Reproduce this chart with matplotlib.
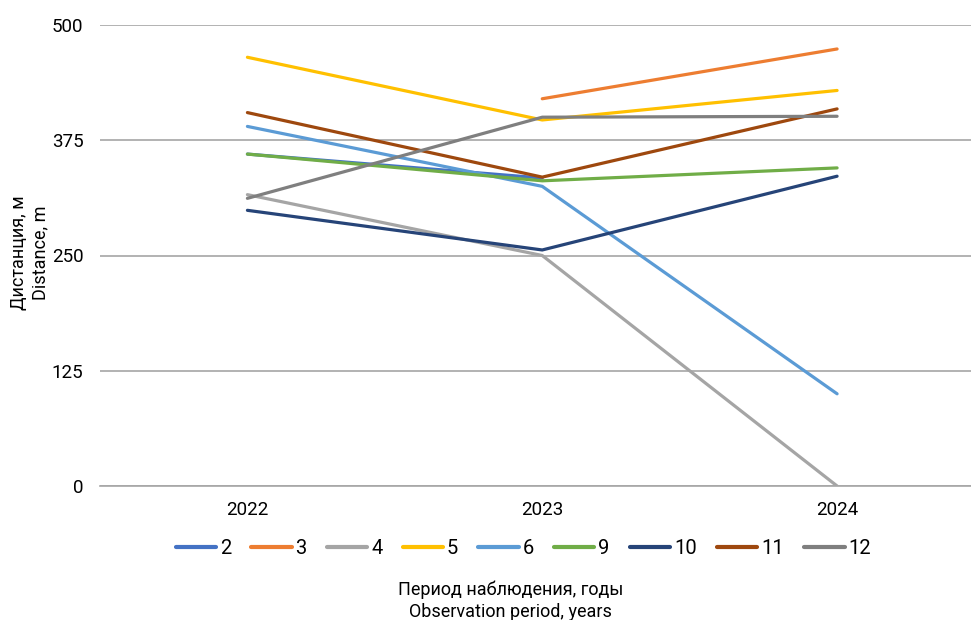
import matplotlib

matplotlib.use("Agg")

import matplotlib.pyplot as plt
import numpy as np

years = ["2022", "2023", "2024"]
series_names = ["2", "3", "4", "5", "6", "9", "10", "11", "12"]

s2 = [360, 334, np.nan]
s3 = [np.nan, 420, 474]
s4 = [316, 250, 0]
s5 = [465, 397, 429]
s6 = [390, 325, 100]
s9 = [360, 331, 345]
s10 = [299, 256, 336]
s11 = [405, 335, 409]
s12 = [312, 400, 401]

yticks = [0, 125, 250, 375, 500]

colors = ["#4472C4", "#ED7D31", "#A5A5A5", "#FFC000", "#5B9BD5",
          "#70AD47", "#264478", "#9E480E", "#7F7F7F"]

plt.rcParams["font.family"] = ["Roboto", "DejaVu Sans"]

fig = plt.figure(figsize=(9.71, 6.2), dpi=100)
ax = fig.add_axes([100 / 971, 134 / 620, 884.5 / 971, 461 / 620])

x = np.arange(len(years))
all_series = [s2, s3, s4, s5, s6, s9, s10, s11, s12]
for name, vals, c in zip(series_names, all_series, colors):
    ax.plot(x, vals, color=c, lw=2.3, solid_capstyle="round", label=name)

ax.set_xlim(-0.5, 2.5)
ax.set_ylim(0, 500)
ax.set_yticks(yticks)
ax.set_xticks(x)
ax.set_xticklabels(years)
ax.grid(axis="y", color="#A6A6A6", lw=1.2)
ax.set_axisbelow(True)
for sp in ["top", "right", "left"]:
    ax.spines[sp].set_visible(False)
ax.spines["bottom"].set_color("#A6A6A6")
ax.spines["bottom"].set_linewidth(1.2)
ax.tick_params(axis="both", length=0, labelsize=13.5, colors="black")
ax.tick_params(axis="y", pad=12)
ax.tick_params(axis="x", pad=11)

fig.text(0.031, 0.592, "Дистанция, м\nDistance, m", rotation=90,
         ha="center", va="center", fontsize=13, linespacing=1.25)
fig.text(0.526, 0.031, "Период наблюдения, годы\nObservation period, years",
         ha="center", va="center", fontsize=13, linespacing=1.25)

leg = fig.legend(loc="center", bbox_to_anchor=(0.539, 0.115), ncol=9,
                 frameon=False, fontsize=14.5, handlelength=2.0,
                 handletextpad=0.2, columnspacing=1.0)
for h in leg.get_lines():
    h.set_linewidth(3)

fig.savefig("out.png", dpi=100)
plt.close(fig)
